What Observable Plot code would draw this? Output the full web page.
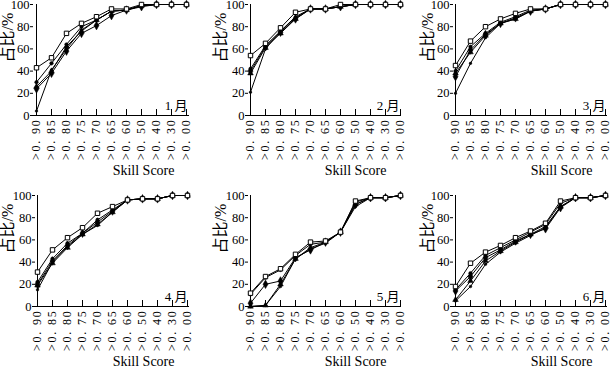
<!DOCTYPE html>
<html><head><meta charset="utf-8">
<script src="https://cdn.jsdelivr.net/npm/d3@7"></script>
<script src="https://cdn.jsdelivr.net/npm/@observablehq/plot@0.6"></script>
<style>
body{margin:0;background:#fff}
#wrap{position:relative;width:611px;height:371px;overflow:hidden;background:#fff}
.panel{position:absolute}
.panel svg{overflow:visible}
g[aria-label="x-axis tick label"] text{letter-spacing:1.8px}
</style></head><body><div id="wrap"></div>
<script>
const categories = [">0.90",">0.85",">0.80",">0.75",">0.70",">0.65",">0.60",">0.50",">0.40",">0.30",">0.00"];
const tickLabels = [">0. 90",">0. 85",">0. 80",">0. 75",">0. 70",">0. 65",">0. 60",">0. 50",">0. 40",">0. 30",">0. 00"];
const yTicks = [0,20,40,60,80,100];
const monthLabels = ["1 月","2 月","3 月","4 月","5 月","6 月"];
const xLabel = "Skill Score";
const yLabel = "占比/%";
const seriesNames = ["A","B","C","D","E"];

// each month: series A (open squares), B, C, D, E
const jan = [
  [43,52,74,83,89,96,96,100,100,100,100],
  [30,47,64,80,86,94,95,99,100,100,100],
  [24,38,58,74,81,90,95,98,100,100,100],
  [26,40,62,76,86,94,95,99,100,100,100],
  [4,41,60,77,86,94,95,99,100,100,100]
];
const feb = [
  [54,65,79,93,96,96,100,100,100,100,100],
  [42,63,76,88,96,96,98,100,100,100,100],
  [40,62,75,87,96,96,98,100,100,100,100],
  [38,61,74,87,96,96,98,100,100,100,100],
  [21,60,76,89,96,96,98,100,100,100,100]
];
const mar = [
  [45,67,80,87,92,96,96,100,100,100,100],
  [40,62,74,84,89,95,96,100,100,100,100],
  [35,59,73,83,88,94,96,100,100,100,100],
  [38,57,72,83,87,94,96,100,100,100,100],
  [20,47,70,83,87,94,96,100,100,100,100]
];
const apr = [
  [31,51,62,71,84,90,96,97,97,100,100],
  [22,43,57,66,78,87,96,97,97,100,100],
  [20,41,55,66,76,86,96,97,97,100,100],
  [19,39,53,65,74,85,96,97,97,100,100],
  [15,40,54,65,73,85,96,97,97,100,100]
];
const may = [
  [12,27,34,47,58,59,67,95,98,98,100],
  [11,26,33,46,56,58,67,94,98,98,100],
  [3,20,23,44,51,58,67,92,98,98,100],
  [0,1,20,43,53,58,67,92,98,98,100],
  [0,1,18,43,52,57,67,90,98,98,100]
];
const jun = [
  [18,39,49,55,62,68,75,95,98,98,100],
  [15,30,46,53,60,67,74,93,98,98,100],
  [14,27,44,51,59,65,70,89,98,98,100],
  [6,23,41,50,58,65,72,90,98,98,100],
  [5,18,38,49,57,64,71,90,98,98,100]
];
const months = [jan,feb,mar,apr,may,jun];

const serif = "Liberation Serif, DejaVu Serif, Noto Sans CJK SC, serif";
const symStyles = [
  {symbol:"square", fill:"white", stroke:"black", r:2.5, strokeWidth:1},
  {symbol:"circle", fill:"black", stroke:"black", r:1.8, strokeWidth:0.5},
  {symbol:"diamond", fill:"black", stroke:"black", r:2.6, strokeWidth:0.5},
  {symbol:"triangle", fill:"black", stroke:"black", r:2.1, strokeWidth:0.5},
  {symbol:"circle", fill:"black", stroke:"black", r:1.3, strokeWidth:0.5}
];
// layout: left, top, frame left x, frame right x, label dx
const layout = [
  {left:0,   top:0,   A:33,  R:189, ldx:-26, row:0},
  {left:205, top:0,   A:248, R:401, ldx:-28, row:0},
  {left:415, top:0,   A:453, R:607, ldx:-26, row:0},
  {left:0,   top:185, A:35,  R:189, ldx:-28, row:1},
  {left:205, top:185, A:248, R:401, ldx:-28, row:1},
  {left:415, top:185, A:453, R:607, ldx:-26, row:1}
];
const wrap = document.getElementById("wrap");
months.forEach((m, mi) => {
  const L = layout[mi];
  const rows = [];
  m.forEach((vals, si) => vals.forEach((v, ci) => rows.push({cat: categories[ci], value: v, series: seriesNames[si]})));
  const marginRight = mi % 3 === 2 ? 4 : 8;
  const width = L.R - L.left + marginRight;
  const height = L.row === 0 ? 185 : 186;
  const marginTop = L.row === 0 ? 4 : 10;
  const marginBottom = L.row === 0 ? 70 : 65;
  const marks = [
    Plot.axisY({ticks: yTicks, tickSize: 3, tickPadding: 1, label: null, fontSize: 12.5, fontFamily: serif}),
    Plot.axisX({tickSize: -6, tickPadding: 9, tickRotate: -90, textAnchor: "end", label: null, fontSize: 12, fontFamily: serif,
      tickFormat: d => tickLabels[categories.indexOf(d)]}),
    Plot.ruleY([0], {stroke: "black"}),
    Plot.ruleX([categories[0]], {stroke: "black"}),
    Plot.line(rows, {x: "cat", y: "value", z: "series", stroke: "black", strokeWidth: 1})
  ];
  seriesNames.slice().reverse().forEach(s => {
    const si = seriesNames.indexOf(s);
    marks.push(Plot.dot(rows, {filter: d => d.series === s, x: "cat", y: "value", ...symStyles[si]}));
  });
  marks.push(
    Plot.text([monthLabels[mi]], {frameAnchor: "bottom-right", dx: -2, dy: -6, textAnchor: "end", lineAnchor: "bottom", fontSize: 13, fontFamily: serif}),
    Plot.text([xLabel], {frameAnchor: "bottom-right", dx: -15, dy: 55, textAnchor: "end", lineAnchor: "middle", fontSize: 14, fontFamily: serif}),
    Plot.text([yLabel], {frameAnchor: "top-left", rotate: -90, dx: L.ldx, dy: 33, textAnchor: "middle", lineAnchor: "middle", fontSize: 16, fontFamily: serif})
  );
  const chart = Plot.plot({
    width, height, marginLeft: L.A - L.left, marginRight, marginTop, marginBottom,
    style: {fontFamily: serif, fontSize: "12px", color: "black", background: "transparent", overflow: "visible"},
    x: {type: "point", domain: categories, padding: 0},
    y: {domain: [0, 100]},
    marks
  });
  const div = document.createElement("div");
  div.className = "panel";
  div.style.left = L.left + "px";
  div.style.top = L.top + "px";
  div.appendChild(chart);
  wrap.appendChild(div);
});
</script></body></html>
